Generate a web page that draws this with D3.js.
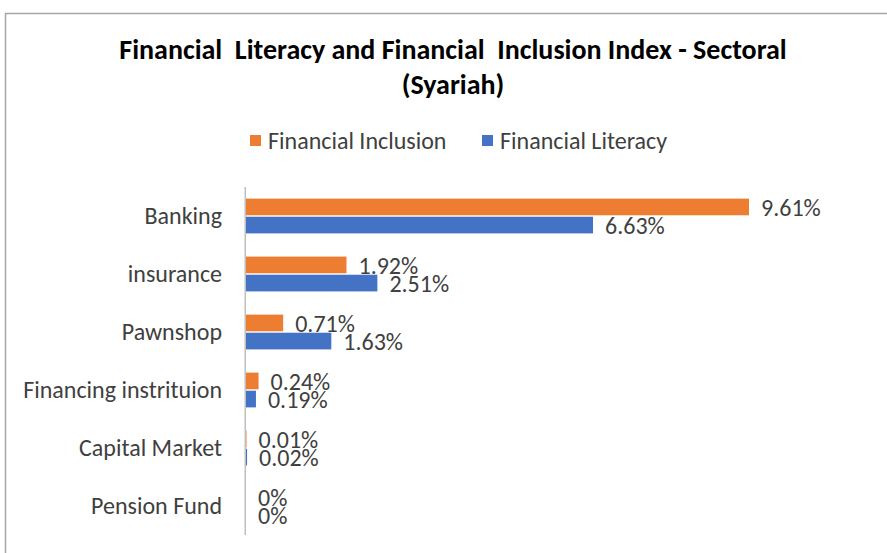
<!DOCTYPE html>
<html>
<head>
<meta charset="utf-8">
<script src="https://cdn.jsdelivr.net/npm/d3@7"></script>
<style>
  html, body { margin: 0; padding: 0; background: #fff; }
  svg { display: block; }
</style>
</head>
<body>
<svg id="chart" width="887" height="553"></svg>
<script>
const categories = ["Banking", "insurance", "Pawnshop", "Financing instrituion", "Capital Market", "Pension Fund"];
const seriesNames = ["Financial Inclusion", "Financial Literacy"];
const inclusion = [9.61, 1.92, 0.71, 0.24, 0.01, 0];
const literacy = [6.63, 2.51, 1.63, 0.19, 0.02, 0];
const labelsInclusion = ["9.61%", "1.92%", "0.71%", "0.24%", "0.01%", "0%"];
const labelsLiteracy = ["6.63%", "2.51%", "1.63%", "0.19%", "0.02%", "0%"];
const colors = ["#ED7D31", "#4472C4"];

const W = 887, H = 553;
const FONT = "Carlito, 'Liberation Sans Narrow', 'Open Sans', sans-serif";
const m = { top: 187, left: 246, bottom: 18 };
const iH = H - m.top - m.bottom;

const rows = categories.map((c, i) => ({
  cat: c,
  vals: [
    { s: 0, v: inclusion[i], lab: labelsInclusion[i] },
    { s: 1, v: literacy[i], lab: labelsLiteracy[i] }
  ]
}));

const svg = d3.select("#chart");

// frame
svg.append("path")
  .attr("d", `M5.5,${H} V13.5 H${W}`)
  .attr("fill", "none").attr("stroke", "#a6a6a6").attr("stroke-width", 1.5);

// title (double spaces kept as in the original)
const title = svg.append("text")
  .attr("x", 453).attr("y", 59)
  .attr("text-anchor", "middle")
  .style("white-space", "pre")
  .style("font-family", FONT).style("font-weight", "700").style("font-size", "28px").style("fill", "#000");
title.append("tspan").attr("x", 453).attr("dy", 0).text("Financial  Literacy and Financial  Inclusion Index - Sectoral");
title.append("tspan").attr("x", 453).attr("dy", 35).text("(Syariah)");

// legend
const legend = svg.append("g");
const legX = [250, 482];
seriesNames.forEach((n, i) => {
  legend.append("rect").attr("x", legX[i]).attr("y", 135).attr("width", 11).attr("height", 11).attr("fill", colors[i]);
  legend.append("text").attr("x", legX[i] + 18).attr("y", 141).attr("dy", "0.35em")
    .style("font-family", FONT).style("font-size", "24px").style("fill", "#404040").text(n);
});

const g = svg.append("g").attr("transform", `translate(${m.left},${m.top})`);

const x = d3.scaleLinear().domain([0, 9.61]).range([0, 503]);
const y = d3.scaleBand().domain(categories).range([0, iH]).paddingInner(0.4).paddingOuter(0.2);
const ys = d3.scaleBand().domain([0, 1]).range([0, y.bandwidth()]).paddingInner(0.08);

// vertical axis line (behind the bars)
g.append("line").attr("x1", -0.75).attr("x2", -0.75).attr("y1", 0).attr("y2", iH)
  .attr("stroke", "#bfbfbf").attr("stroke-width", 1.5);

// category axis
g.append("g")
  .call(d3.axisLeft(y).tickSize(0).tickPadding(24))
  .call(ax => {
    ax.select(".domain").remove();
    ax.selectAll(".tick text").style("font-family", FONT).style("font-size", "24px").style("fill", "#404040");
  });

const grp = g.selectAll(".grp").data(rows).join("g")
  .attr("transform", d => `translate(0,${y(d.cat)})`);

grp.selectAll("rect").data(d => d.vals).join("rect")
  .attr("x", 0).attr("y", d => ys(d.s))
  .attr("width", d => x(d.v)).attr("height", ys.bandwidth())
  .attr("fill", d => colors[d.s]);

grp.selectAll("text").data(d => d.vals).join("text")
  .attr("x", d => x(d.v) + 12)
  .attr("y", d => ys(d.s) + ys.bandwidth() / 2)
  .attr("dy", "0.36em")
  .style("font-family", FONT).style("font-size", "24px").style("fill", "#404040")
  .text(d => d.lab);
</script>
</body>
</html>
